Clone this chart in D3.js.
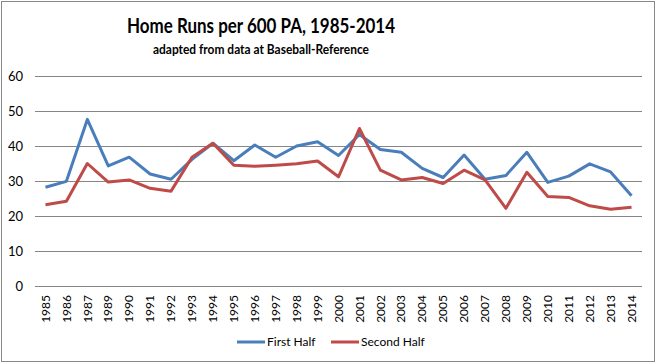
<!DOCTYPE html>
<html>
<head>
<meta charset="utf-8">
<script src="https://cdn.jsdelivr.net/npm/d3@7"></script>
<style>
  body { margin: 0; background: #fff; }
  svg { display: block; font-family: Lato, "Open Sans", sans-serif; }
</style>
</head>
<body>
<div class="chart"></div>
<script>
// data
const years = ["1985","1986","1987","1989","1990","1991","1992","1993","1994","1995",
  "1996","1997","1998","1999","2000","2001","2002","2003","2004","2005",
  "2006","2007","2008","2009","2010","2011","2012","2013","2014"];
const firstHalf = [28.2, 29.9, 47.6, 34.3, 36.8, 32.0, 30.5, 36.2, 40.8, 35.8,
  40.3, 36.8, 40.0, 41.2, 37.3, 43.3, 39.0, 38.2, 33.6, 31.0,
  37.4, 30.5, 31.6, 38.2, 29.6, 31.4, 34.9, 32.6, 25.8];
const secondHalf = [23.2, 24.2, 35.0, 29.7, 30.3, 27.9, 27.1, 36.8, 40.8, 34.5,
  34.2, 34.5, 34.9, 35.7, 31.2, 45.0, 33.1, 30.3, 31.0, 29.3,
  33.1, 30.3, 22.2, 32.5, 25.6, 25.3, 22.9, 21.9, 22.5];
const yTicks = [0, 10, 20, 30, 40, 50, 60];
const seriesNames = ["First Half", "Second Half"];
const seriesColors = ["#4A7EBB", "#BE4B48"];

const width = 659, height = 364,
    margin = ({ top: 76, right: 17, bottom: 78, left: 35 });

const svg = d3.select(".chart").append("svg")
    .attr("width", width)
    .attr("height", height);

// outer frame
svg.append("rect")
    .attr("x", 1.5).attr("y", 1.5)
    .attr("width", 653).attr("height", 360)
    .attr("fill", "#fff")
    .attr("stroke", "#888")
    .attr("stroke-width", 1);

svg.append("text")
    .attr("x", 261).attr("y", 33)
    .attr("text-anchor", "middle")
    .attr("font-size", 21).attr("font-weight", "bold")
    .attr("textLength", 268).attr("lengthAdjust", "spacingAndGlyphs")
    .text("Home Runs per 600 PA, 1985-2014");

svg.append("text")
    .attr("x", 261).attr("y", 54)
    .attr("text-anchor", "middle")
    .attr("font-size", 13.5).attr("font-weight", "bold")
    .attr("textLength", 216).attr("lengthAdjust", "spacingAndGlyphs")
    .text("adapted from data at Baseball-Reference");

const x = d3.scaleBand()
    .domain(years)
    .range([margin.left, width - margin.right]);

const y = d3.scaleLinear()
    .domain([0, 60])
    .range([height - margin.bottom, margin.top]);

const cx = d => x(d) + x.bandwidth() / 2;

// gridlines + y labels
const yAxis = g => g
    .attr("transform", `translate(${margin.left},0)`)
    .call(d3.axisLeft(y).tickValues(yTicks).tickSize(0).tickPadding(12))
    .call(g => g.select(".domain").remove())
    .call(g => g.selectAll(".tick line").clone()
        .attr("stroke", "#868686")
        .attr("x2", width - margin.left - margin.right))
    .call(g => g.selectAll(".tick text")
        .attr("font-size", 13).attr("fill", "#000")
        .attr("font-family", "Lato, sans-serif"));

svg.append("g").call(yAxis);

const xAxis = g => g
    .attr("transform", `translate(0,${height - margin.bottom})`)
    .call(d3.axisBottom(x).tickSize(0).tickPadding(0))
    .call(g => g.select(".domain").remove())
    .call(g => g.selectAll(".tick text")
        .attr("transform", "rotate(-90)")
        .attr("text-anchor", "end")
        .attr("x", -9).attr("y", 0).attr("dy", "0.35em")
        .attr("font-size", 12).attr("fill", "#000")
        .attr("font-family", "Lato, sans-serif"));

svg.append("g").call(xAxis);

const line = d3.line()
    .x((d, i) => cx(years[i]))
    .y(d => y(d));

[firstHalf, secondHalf].forEach((s, k) => {
  svg.append("path")
      .datum(s)
      .attr("fill", "none")
      .attr("stroke", seriesColors[k])
      .attr("stroke-width", 3)
      .attr("stroke-linejoin", "round")
      .attr("d", line);
});

// legend
const legendX = [237, 331];
seriesNames.forEach((name, k) => {
  const g = svg.append("g").attr("transform", `translate(${legendX[k]},342)`);
  g.append("line")
      .attr("x1", 0).attr("x2", 28)
      .attr("stroke", seriesColors[k]).attr("stroke-width", 3);
  g.append("text")
      .attr("x", 30).attr("dy", "0.35em")
      .attr("font-size", 12)
      .text(name);
});
</script>
</body>
</html>
